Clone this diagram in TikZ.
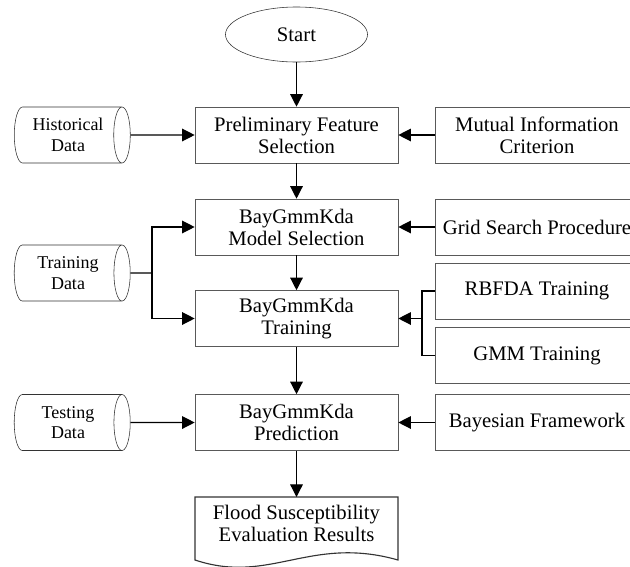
\documentclass[tikz,border=0pt]{standalone}
\usepackage{fontspec}
\setmainfont{Liberation Serif}
\usetikzlibrary{shapes}
\usetikzlibrary{arrows.meta}
\tikzset{
    Node/.style = {rectangle, draw=black!65, align=center, minimum width=5.075cm, minimum height=1.4cm, inner sep=0pt}
}
\tikzset{
    Side/.style = {rectangle, draw=black!65, align=center, minimum width=5.1cm, minimum height=1.4cm, inner sep=0pt}
}
\tikzset{
    Data/.style = {cylinder, draw=black!80, align=center, aspect=0.5, minimum height=2.9cm, minimum width=1.4cm, inner sep=0pt, font=\fontsize{12.8}{14.6}\selectfont}
}
\tikzset{
    Edge/.style = {draw=black, line width=0.9pt, -{Triangle[length=9pt,width=9pt]}}
}

\begin{document}
\begin{tikzpicture}[
    x=0.025cm, y=-0.025cm,
    font=\fontsize{14.7}{15.6}\selectfont
]
\tikzset{
    Start/.style = {ellipse, draw=black!80, minimum width=3.55cm, minimum height=1.375cm, inner sep=0pt},
    Paper/.style = {rectangle, align=center, minimum width=5.075cm, minimum height=1.3cm, inner sep=0pt, anchor=north},
    Line/.style = {draw=black, line width=0.9pt}
}
\useasboundingbox (0,0) rectangle (630,566);
\clip (0,0) rectangle (630,566);
% main column
\node[Start] at (296.5,34.5) (start) {Start};
\node[Node] at (296.5,135) (pfs) {Preliminary Feature\\Selection};
\node[Node] at (296.5,227) (msel) {BayGmmKda\\Model Selection};
\node[Node] at (296.5,318.5) (train) {BayGmmKda\\Training};
\node[Node] at (296.5,422.5) (pred) {BayGmmKda\\Prediction};
\node[Paper] at (296.5,497) (result) {Flood Susceptibility\\Evaluation Results};
\draw[draw=black!80, line width=0.8pt] (195,497) -- (398,497) -- (398,560) .. controls (310,535) and (270,585) .. (195,560) -- cycle;
% data stores
\node[Data] at (68,135) (hist) {Historical\\Data};
\node[Data] at (68,273) (tdata) {Training\\Data};
\node[Data] at (68,422.5) (test) {Testing\\Data};
% side boxes
\node[Side] at (537,135) (mic) {Mutual Information\\Criterion};
\node[Side] at (537,227) (gsp) {Grid Search Procedure};
\node[Side] at (537,291) (rbf) {RBFDA Training};
\node[Side] at (537,355.5) (gmm) {GMM Training};
\node[Side] at (537,422.5) (bay) {Bayesian Framework};
\coordinate (tj) at (152,273);
\coordinate (bj) at (422,318.5);
\path (start) edge [Edge] (pfs);
\path (pfs) edge [Edge] (msel);
\path (msel) edge [Edge] (train);
\path (train) edge [Edge] (pred);
\path (pred) edge [Edge] (result);
\path (hist) edge [Edge] (pfs);
\path (test) edge [Edge] (pred);
\path (mic) edge [Edge] (pfs);
\path (gsp) edge [Edge] (msel);
\path (bay) edge [Edge] (pred);
\draw[Line] (tdata.east) -- (tj);
\draw[Edge] (tj) |- (msel.west);
\draw[Edge] (tj) |- (train.west);
\draw[Line] (rbf.west) -| (bj) |- (gmm.west);
\path (bj) edge [Edge] (train);
\end{tikzpicture}
\end{document}
